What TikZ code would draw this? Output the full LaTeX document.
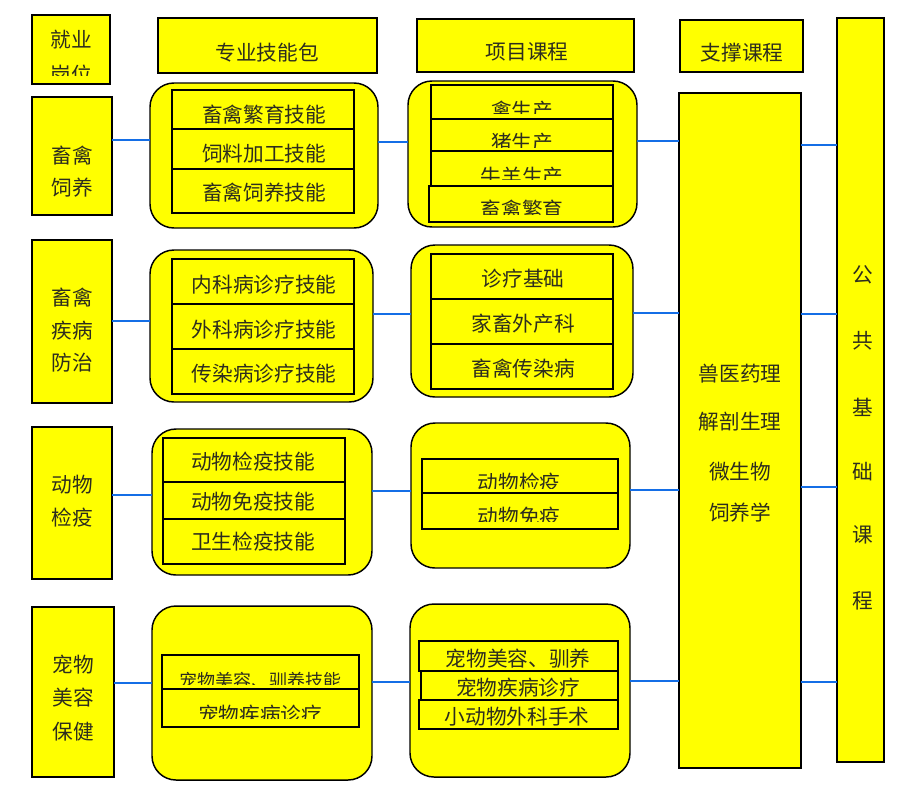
\documentclass[tikz,border=0pt]{standalone}
\usepackage{fontspec}
\setmainfont{Noto Sans CJK SC}
\definecolor{txtc}{RGB}{45,45,30}
\definecolor{linkc}{RGB}{20,110,230}
\definecolor{ylw}{RGB}{255,255,0}
\newcommand\bxx[6]{\node[#1, minimum width={(#5-#3)*0.75pt}, minimum height={(#6-#4)*0.75pt}] (#2) at ({(#3+#5)/2},{(#4+#6)/2}) {};}
\newcommand\ctx[8]{\begin{scope}\clip (#4,#5) rectangle (#6,#7); \node[tx] (#1) at (#2,#3) {#8};\end{scope}}
\begin{document}
\begin{tikzpicture}[x=0.75pt,y=-0.75pt,
  yb/.style={draw=black, fill=ylw, line width=1.5pt, inner sep=0pt, outer sep=0pt},
  rb/.style={yb, line width=1.1pt, rounded corners=18pt},
  ib/.style={yb, line width=1.5pt},
  tx/.style={inner sep=0pt, text=txtc, font=\fontsize{15.5}{18}\selectfont},
  txs/.style={tx, font=\fontsize{13.5}{16}\selectfont},
  link/.style={draw=linkc, line width=1.3pt}]
\useasboundingbox (0,0) rectangle (909,794);

% row level coordinates
\coordinate (a1) at (0,140); \coordinate (b1) at (0,142); \coordinate (c1) at (0,141); \coordinate (d1) at (0,145);
\coordinate (a2) at (0,321); \coordinate (b2) at (0,314); \coordinate (c2) at (0,313); \coordinate (d2) at (0,314);
\coordinate (a3) at (0,495); \coordinate (b3) at (0,491); \coordinate (c3) at (0,490); \coordinate (d3) at (0,487);
\coordinate (a4) at (0,683); \coordinate (b4) at (0,682); \coordinate (c4) at (0,681); \coordinate (d4) at (0,682);

% headers
\bxx{yb}{H0}{32}{15}{110}{84}
\bxx{yb}{H1}{158}{18}{377}{73}
\bxx{yb}{H2}{417}{19}{634}{72}
\bxx{yb}{H3}{680}{20}{803}{72}
\node[tx] (h0a) at (71,40) {就业};
\ctx{h0b}{71}{75}{32}{15}{110}{75}{岗位}
\node[tx] (h1t) at (267,53) {专业技能包};
\node[tx] (h2t) at (527,52) {项目课程};
\node[tx] (h3t) at (742,53) {支撑课程};

% big columns
\bxx{yb}{PUB}{837}{18}{884}{762}
\bxx{yb}{SUP}{679}{93}{801}{768}

% left boxes
\bxx{yb}{L1}{32}{97}{112}{215}
\bxx{yb}{L2}{32}{240}{112}{403}
\bxx{yb}{L3}{32}{427}{112}{579}
\bxx{yb}{L4}{32}{607}{114}{777}

% skill rounded boxes
\bxx{rb}{S1}{150}{83}{378}{228}
\bxx{rb}{S2}{150}{250}{373}{402}
\bxx{rb}{S3}{152}{429}{372}{575}
\bxx{rb}{S4}{152}{606}{372}{780}

% project rounded boxes
\bxx{rb}{P1}{408}{81}{637}{227}
\bxx{rb}{P2}{411}{245}{633}{397}
\bxx{rb}{P3}{411}{423}{630}{568}
\bxx{rb}{P4}{410}{604}{630}{777}

% connectors
\draw[link] (L1.east |- a1) -- (S1.west |- a1);
\draw[link] (S1.east |- b1) -- (P1.west |- b1);
\draw[link] (P1.east |- c1) -- (SUP.west |- c1);
\draw[link] (SUP.east |- d1) -- (PUB.west |- d1);
\draw[link] (L2.east |- a2) -- (S2.west |- a2);
\draw[link] (S2.east |- b2) -- (P2.west |- b2);
\draw[link] (P2.east |- c2) -- (SUP.west |- c2);
\draw[link] (SUP.east |- d2) -- (PUB.west |- d2);
\draw[link] (L3.east |- a3) -- (S3.west |- a3);
\draw[link] (S3.east |- b3) -- (P3.west |- b3);
\draw[link] (P3.east |- c3) -- (SUP.west |- c3);
\draw[link] (SUP.east |- d3) -- (PUB.west |- d3);
\draw[link] (L4.east |- a4) -- (S4.west |- a4);
\draw[link] (S4.east |- b4) -- (P4.west |- b4);
\draw[link] (P4.east |- c4) -- (SUP.west |- c4);
\draw[link] (SUP.east |- d4) -- (PUB.west |- d4);

% left texts
\node[tx] (l1a) at (72,156) {畜禽};
\node[tx] (l1b) at (72,188) {饲养};
\node[tx] (l2a) at (72,298) {畜禽};
\node[tx] (l2b) at (72,331) {疾病};
\node[tx] (l2c) at (72,363) {防治};
\node[tx] (l3a) at (72,485) {动物};
\node[tx] (l3b) at (72,518) {检疫};
\node[tx] (l4a) at (73,665) {宠物};
\node[tx] (l4b) at (73,698) {美容};
\node[tx] (l4c) at (73,732) {保健};

% skill inner boxes
\bxx{ib}{s11}{172}{90}{354}{129}
\bxx{ib}{s12}{172}{129}{354}{169}
\bxx{ib}{s13}{172}{169}{354}{213}
\node[tx] (t11) at (264,115) {畜禽繁育技能};
\node[tx] (t12) at (264,154) {饲料加工技能};
\node[tx] (t13) at (264,193) {畜禽饲养技能};

\bxx{ib}{s21}{172}{259}{354}{304}
\bxx{ib}{s22}{172}{304}{354}{349}
\bxx{ib}{s23}{172}{349}{354}{394}
\node[tx] (t21) at (264,285) {内科病诊疗技能};
\node[tx] (t22) at (264,330) {外科病诊疗技能};
\node[tx] (t23) at (264,374) {传染病诊疗技能};

\bxx{ib}{s31}{163}{438}{345}{482}
\bxx{ib}{s32}{163}{482}{345}{519}
\bxx{ib}{s33}{163}{519}{345}{564}
\node[tx] (t31) at (253,462) {动物检疫技能};
\node[tx] (t32) at (253,502) {动物免疫技能};
\node[tx] (t33) at (253,542) {卫生检疫技能};

\bxx{ib}{s41}{162}{655}{359}{689}
\bxx{ib}{s42}{162}{689}{359}{727}
\begin{scope}\clip (162,655) rectangle (359,684); \node[txs] (t41) at (260,681) {宠物美容、驯养技能};\end{scope}
\ctx{t42}{260}{715}{162}{689}{359}{718}{宠物疾病诊疗}

% project inner boxes
\bxx{ib}{p11}{431}{85}{613}{119}
\bxx{ib}{p12}{431}{119}{613}{151}
\bxx{ib}{p13}{431}{151}{613}{186}
\bxx{ib}{p14}{429}{186}{613}{222}
\ctx{u11}{522}{111}{431}{85}{613}{113}{禽生产}
\ctx{u12}{522}{143}{431}{119}{613}{147}{猪生产}
\ctx{u13}{522}{177}{431}{151}{613}{179}{牛羊生产}
\ctx{u14}{522}{210}{429}{186}{613}{214}{畜禽繁育}

\bxx{ib}{p21}{431}{254}{613}{299}
\bxx{ib}{p22}{431}{299}{613}{344}
\bxx{ib}{p23}{431}{344}{613}{389}
\node[tx] (u21) at (523,279) {诊疗基础};
\node[tx] (u22) at (523,324) {家畜外产科};
\node[tx] (u23) at (523,369) {畜禽传染病};

\bxx{ib}{p31}{422}{459}{618}{493}
\bxx{ib}{p32}{422}{493}{618}{529}
\ctx{u31}{519}{483}{422}{459}{618}{488}{动物检疫}
\ctx{u32}{519}{517}{422}{493}{618}{521}{动物免疫}

\bxx{ib}{p41}{419}{641}{618}{671}
\bxx{ib}{p42}{421}{671}{618}{700}
\bxx{ib}{p43}{419}{700}{618}{729}
\ctx{u41}{518}{659}{419}{641}{618}{669}{宠物美容、驯养}
\ctx{u42}{518}{688}{421}{671}{618}{698}{宠物疾病诊疗}
\node[tx] (u43) at (517,717) {小动物外科手术};

% support texts
\node[tx] (v1) at (740,374) {兽医药理};
\node[tx] (v2) at (740,422) {解剖生理};
\node[tx] (v3) at (740,472) {微生物};
\node[tx] (v4) at (740,513) {饲养学};

% public texts
\node[tx] (w1) at (863,275) {公};
\node[tx] (w2) at (863,341) {共};
\node[tx] (w3) at (863,407) {基};
\node[tx] (w4) at (863,472) {础};
\node[tx] (w5) at (863,535) {课};
\node[tx] (w6) at (863,601) {程};
\end{tikzpicture}
\end{document}
